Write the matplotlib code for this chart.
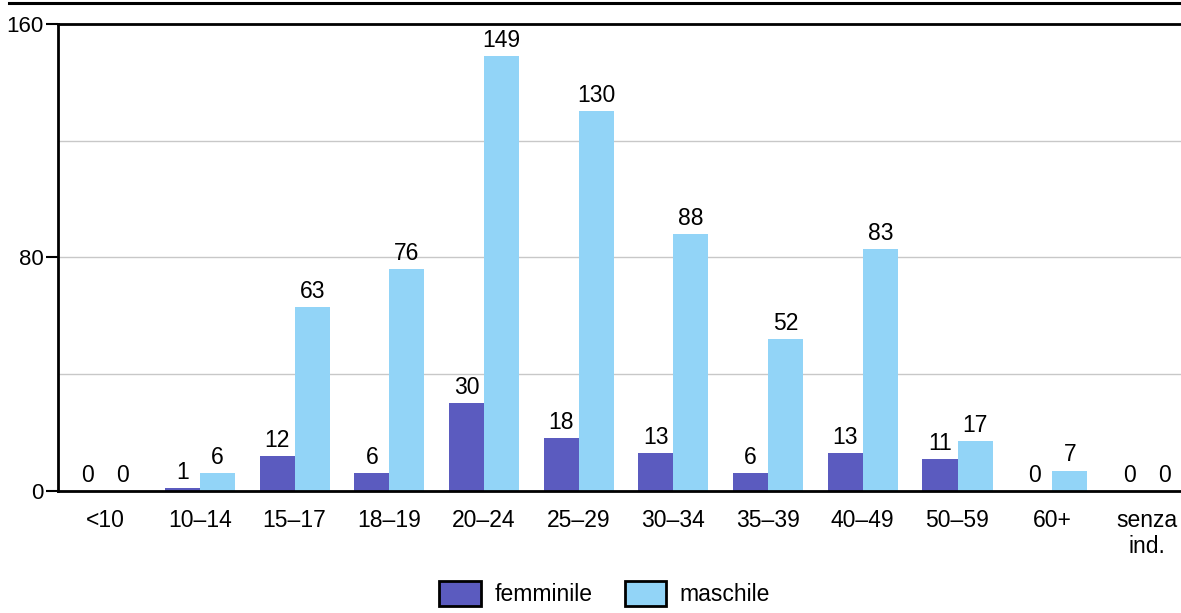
import matplotlib.pyplot as plt
import numpy as np
from matplotlib.lines import Line2D
from matplotlib.patches import Patch

plt.rcParams['font.family'] = ['Liberation Sans', 'DejaVu Sans']

categories = ['<10', '10–14', '15–17', '18–19', '20–24', '25–29', '30–34',
              '35–39', '40–49', '50–59', '60+', 'senza\nind.']
femminile = [0, 1, 12, 6, 30, 18, 13, 6, 13, 11, 0, 0]
maschile = [0, 6, 63, 76, 149, 130, 88, 52, 83, 17, 7, 0]

col_f = '#5b5bbf'
col_m = '#92d4f7'

fig = plt.figure(figsize=(11.81, 6.13), dpi=100)
ax = fig.add_axes([0.049, 0.199, 0.951, 0.762])

x = np.arange(len(categories))
w = 0.37
bf = ax.bar(x - w/2, femminile, w, color=col_f, zorder=3)
bm = ax.bar(x + w/2, maschile, w, color=col_m, zorder=3)
ax.bar_label(bf, padding=3, fontsize=16.5)
ax.bar_label(bm, padding=3, fontsize=16.5)

ax.set_xlim(-0.5, 11.36)
ax.set_ylim(0, 160)
ax.set_yticks([0, 80, 160])
ax.set_yticks([40, 120], minor=True)
ax.tick_params(axis='y', which='major', length=9, width=1.5, labelsize=16, pad=1)
ax.tick_params(axis='y', which='minor', length=0)
ax.grid(axis='y', which='both', color='#c8c8c8', linewidth=1, zorder=0)
ax.set_xticks(x)
ax.set_xticklabels(categories, fontsize=16.5, linespacing=1.15, va='top')
ax.tick_params(axis='x', length=0, pad=13)

for s in ['left', 'bottom', 'top']:
    ax.spines[s].set_linewidth(2)
    ax.spines[s].set_zorder(4)
ax.spines['right'].set_visible(False)

fig.add_artist(Line2D([0.008, 1.0], [0.995, 0.995], color='black', linewidth=2.2,
                      transform=fig.transFigure))

handles = [Patch(facecolor=col_f, edgecolor='black', linewidth=2),
           Patch(facecolor=col_m, edgecolor='black', linewidth=2)]
fig.legend(handles, ['femminile', 'maschile'], loc='lower center',
           bbox_to_anchor=(0.512, -0.022), ncol=2, frameon=False, fontsize=16.5,
           handlelength=1.8, handleheight=1.3, columnspacing=1.4, handletextpad=0.6)

plt.savefig('out.png', dpi=100)
